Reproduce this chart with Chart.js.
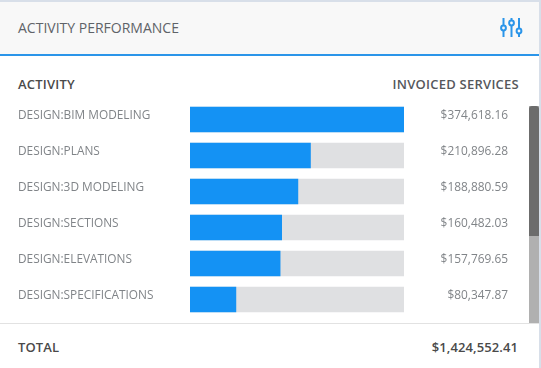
<!DOCTYPE html>
<html>
<head>
<meta charset="utf-8">
<script src="https://cdn.jsdelivr.net/npm/chart.js@4"></script>
<style>
  html, body { margin: 0; padding: 0; background: #fff; }
  body { width: 541px; height: 368px; position: relative; overflow: hidden; font-family: "Open Sans", sans-serif; }
  .card { position: absolute; left: 0; top: 0; width: 539px; height: 368px; border-top: 2px solid #d8dfe9; border-right: 2px solid #d8dfe9; box-sizing: content-box; }
  .head { position: absolute; left: 0; top: 2px; width: 539px; height: 52px; background: #f8f8f8; border-bottom: 2px solid #2b95e9; }
  .txt { position: absolute; white-space: nowrap; line-height: 18px; }
  #chart-box { position: absolute; left: 0; top: 101px; width: 541px; height: 217px; }
  .scroll { position: absolute; left: 529px; top: 106px; width: 10px; height: 217px; background: #b0b0b0; }
  .thumb { position: absolute; left: 0; top: 0; width: 10px; height: 130px; background: #6c6c6c; border-radius: 3px 3px 0 0; }
  .foot { position: absolute; left: 0; top: 323px; width: 539px; height: 1px; background: #e2e2e2; }
  svg { position: absolute; left: 500px; top: 17px; }
</style>
</head>
<body>
<div class="card"></div>
<div class="head"></div>
<div class="txt" style="left:18px;top:19px;font-size:14px;color:#5f6368">ACTIVITY PERFORMANCE</div>
<svg width="24" height="22" viewBox="0 0 24 22" fill="none" stroke="#2b95e9" stroke-width="2">
  <path d="M3.5 1v7.5M3.5 13.5v6.5M11.5 1v2.5M11.5 8.5v11.5M19 1v10.5M19 16.5v3.5"/>
  <circle cx="3.5" cy="11" r="2.4"/><circle cx="11.5" cy="6" r="2.4"/><circle cx="19" cy="14" r="2.4"/>
</svg>
<div class="txt" style="left:18px;top:75px;font-size:13px;font-weight:600;color:#4a4a4a;letter-spacing:.2px">ACTIVITY</div>
<div class="txt" style="right:22px;top:75px;font-size:13px;font-weight:600;color:#55585c;letter-spacing:.25px">INVOICED SERVICES</div>
<div id="chart-box"><canvas id="chart"></canvas></div>
<div class="scroll"><div class="thumb"></div></div>
<div class="foot"></div>
<div class="txt" style="left:18px;top:338px;font-size:13px;font-weight:600;color:#4a4a4a;letter-spacing:.1px">TOTAL</div>
<div class="txt" style="right:23px;top:338px;font-size:13px;font-weight:600;color:#4a4a4a;letter-spacing:.1px" id="total"></div>
<script>
const categories = ["DESIGN:BIM MODELING", "DESIGN:PLANS", "DESIGN:3D MODELING", "DESIGN:SECTIONS", "DESIGN:ELEVATIONS", "DESIGN:SPECIFICATIONS"];
const invoiced = [374618.16, 210896.28, 188880.59, 160482.03, 157769.65, 80347.87];
const track = [374618.16, 374618.16, 374618.16, 374618.16, 374618.16, 374618.16];
const total = 1424552.41;

const money = (v) => "$" + v.toLocaleString("en-US", { minimumFractionDigits: 2, maximumFractionDigits: 2 });
document.getElementById("total").textContent = money(total);

// amounts on the right of each bar
const amountLabels = {
  id: "amountLabels",
  afterDraw(chart) {
    const { ctx, scales } = chart;
    ctx.save();
    ctx.font = '11.9px "Open Sans"';
    ctx.fillStyle = "#808488";
    ctx.textAlign = "right";
    ctx.textBaseline = "middle";
    invoiced.forEach((v, i) => {
      ctx.fillText(money(v), 508, scales.y.getPixelForValue(i) - 3.5);
    });
    ctx.restore();
  }
};

new Chart(document.getElementById("chart"), {
  type: "bar",
  data: {
    labels: categories,
    datasets: [
      { data: invoiced, backgroundColor: "#1492f4", barThickness: 25, order: 1 },
      { data: track, backgroundColor: "#dfe0e2", barThickness: 25, order: 2 }
    ]
  },
  options: {
    indexAxis: "y",
    responsive: true,
    maintainAspectRatio: false,
    animation: false,
    layout: { padding: { left: 18, right: 137, top: 0.5, bottom: 0.5 } },
    datasets: { bar: { grouped: false } },
    scales: {
      x: { display: false, min: 0, max: 374618.16 },
      y: {
        afterFit(scale) {
          scale.width = 172;
          // no room kept for label overhang, rows are 36px apart
          scale.paddingTop = 0;
          scale.paddingBottom = 0;
        },
        grid: { display: false },
        border: { display: false },
        ticks: {
          crossAlign: "far",
          labelOffset: -3.5,
          padding: 0,
          autoSkip: false,
          color: "#808488",
          font: { family: '"Open Sans"', size: 11.85 }
        }
      }
    },
    plugins: { legend: { display: false }, tooltip: { enabled: false } }
  },
  plugins: [amountLabels]
});
</script>
</body>
</html>
